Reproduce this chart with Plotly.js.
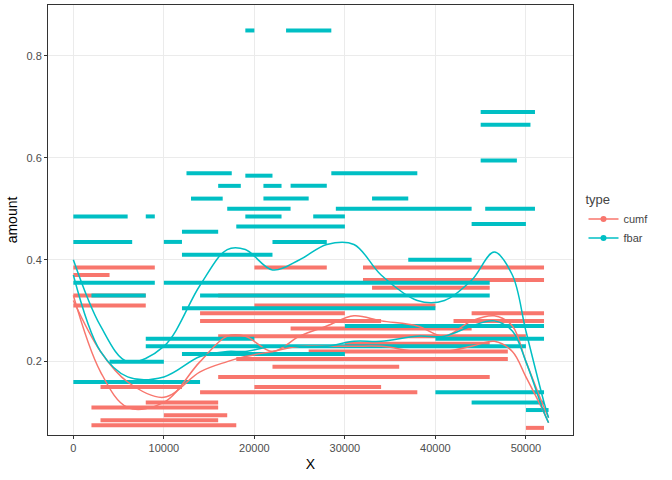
<!DOCTYPE html>
<html><head><script src="https://cdn.plot.ly/plotly-3.0.1.min.js"></script></head>
<body style="margin:0"><div id="c" style="width:672px;height:480px"></div>
<script>
// Runs of points: [xStart, xEnd, amount]
const cumfRuns = [[0,9000,0.385],[20000,28000,0.385],[32000,52000,0.385],[0,4000,0.37],[32000,52000,0.36],[33000,46000,0.345],
[0,8000,0.33],[16000,30000,0.33],[0,8000,0.31],[20000,40000,0.31],[14000,30000,0.295],[44000,52000,0.295],[14000,34000,0.28],[42000,52000,0.28],
[24000,44000,0.265],[16000,50000,0.25],[30000,46000,0.235],[26000,48000,0.22],[18000,48000,0.205],[22000,36000,0.19],[16000,46000,0.17],
[3000,12000,0.15],[20000,34000,0.15],[14000,38000,0.14],[8000,16000,0.12],[2000,16000,0.11],[10000,17000,0.095],[3000,16000,0.085],[2000,18000,0.075],[50000,52000,0.07]];
const fbarRuns = [[19000,20000,0.85],[23500,28500,0.85],[45000,51000,0.69],[45000,50500,0.665],[45000,49000,0.595],[12500,17500,0.57],[28500,38000,0.57],
[19000,22000,0.565],[16000,18500,0.545],[21000,23000,0.545],[24000,28000,0.545],[13000,16500,0.52],[21000,26000,0.52],[33000,37000,0.52],
[17000,24000,0.50],[29000,44000,0.50],[45500,51000,0.50],[0,6000,0.485],[8000,9000,0.485],[19000,23000,0.485],[26500,30000,0.485],
[44000,50000,0.47],[18000,30000,0.465],[12000,16000,0.455],[0,6500,0.435],[10000,12000,0.435],[22000,28000,0.435],[12000,22000,0.41],
[37000,44000,0.40],[0,9000,0.355],[10000,46000,0.355],[2000,8000,0.33],[14000,46000,0.33],[12000,40000,0.305],[30000,52000,0.27],
[8000,20000,0.245],[40000,52000,0.245],[8000,50000,0.23],[12000,30000,0.215],[4000,10000,0.2],[0,14000,0.16],[40000,52000,0.14],[44000,52000,0.12],[50000,52500,0.105]];
const smoothX = [0,3000,6000,10000,14000,17000,19000,22000,25000,28000,31000,34000,38000,41000,44000,46500,48500,50000,52000,52500];
const fbarSmoothA = [0.40,0.27,0.20,0.23,0.35,0.42,0.42,0.38,0.40,0.43,0.43,0.37,0.32,0.32,0.36,0.415,0.37,0.26,0.12,0.09];
const fbarSmoothB = [0.37,0.22,0.17,0.17,0.21,0.22,0.22,0.23,0.23,0.23,0.24,0.24,0.25,0.25,0.27,0.28,0.26,0.20,0.10,0.08];
const cumfSmoothA = [0.33,0.18,0.11,0.12,0.20,0.25,0.25,0.22,0.25,0.27,0.29,0.28,0.27,0.25,0.28,0.29,0.27,0.20,0.11,0.09];
const cumfSmoothB = [0.32,0.22,0.16,0.13,0.18,0.20,0.21,0.22,0.23,0.23,0.23,0.23,0.22,0.22,0.23,0.24,0.22,0.17,0.10,0.08];
const red='#F8766D', cyan='#00BFC4';
function runs(r){const x=[],y=[];r.forEach(s=>{x.push(s[0],s[1],null);y.push(s[2],s[2],null);});return {x,y};}
const cr=runs(cumfRuns), fr=runs(fbarRuns);
const data=[
 {x:cr.x,y:cr.y,mode:'lines',line:{color:red,width:4},showlegend:false,hoverinfo:'skip'},
 {x:fr.x,y:fr.y,mode:'lines',line:{color:cyan,width:4},showlegend:false,hoverinfo:'skip'},
 {x:smoothX,y:cumfSmoothA,mode:'lines',line:{color:red,width:1.5,shape:'spline'},showlegend:false},
 {x:smoothX,y:cumfSmoothB,mode:'lines',line:{color:red,width:1.5,shape:'spline'},showlegend:false},
 {x:smoothX,y:fbarSmoothA,mode:'lines',line:{color:cyan,width:1.5,shape:'spline'},showlegend:false},
 {x:smoothX,y:fbarSmoothB,mode:'lines',line:{color:cyan,width:1.5,shape:'spline'},showlegend:false},
 {x:[null],y:[null],mode:'lines+markers',name:'cumf',line:{color:red,width:1.5},marker:{color:red,size:6}},
 {x:[null],y:[null],mode:'lines+markers',name:'fbar',line:{color:cyan,width:1.5},marker:{color:cyan,size:6}}
];
const ax={showline:true,linecolor:'#333',mirror:true,gridcolor:'#EBEBEB',zeroline:false,ticks:'outside',ticklen:3,tickcolor:'#333',
 tickfont:{family:'Liberation Sans, Arial',size:11,color:'#4D4D4D'}};
Plotly.newPlot('c',data,{
 width:672,height:480,margin:{l:48,r:99,t:5,b:45},paper_bgcolor:'white',plot_bgcolor:'white',
 xaxis:Object.assign({},ax,{range:[-2800,55200],tickvals:[0,10000,20000,30000,40000,50000],tickformat:'d',title:{text:'X',font:{family:'Liberation Sans, Arial',size:14,color:'#000'},standoff:5}}),
 yaxis:Object.assign({},ax,{range:[0.056,0.9],tickvals:[0.2,0.4,0.6,0.8],tickformat:'.1f',title:{text:'amount',font:{family:'Liberation Sans, Arial',size:14,color:'#000'},standoff:5}}),
 legend:{x:1.02,y:0.5,yanchor:'middle',title:{text:'type',font:{family:'Liberation Sans, Arial',size:13}},font:{family:'Liberation Sans, Arial',size:11},tracegroupgap:0}
},{displayModeBar:false});
</script></body></html>
